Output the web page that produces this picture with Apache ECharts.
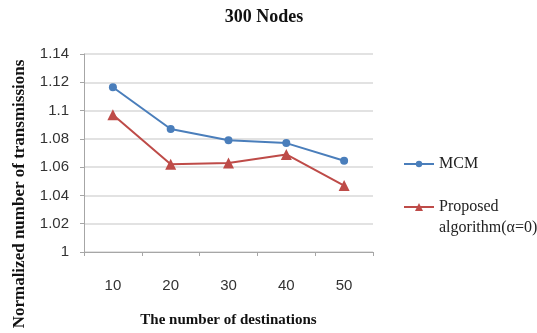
<!DOCTYPE html>
<html>
<head>
<meta charset="utf-8">
<script src="https://cdn.jsdelivr.net/npm/echarts@6/dist/echarts.min.js"></script>
<style>
  html, body { margin: 0; padding: 0; background: #fff; }
  #chart { width: 537px; height: 333px; }
</style>
</head>
<body>
<div id="chart"></div>
<script>
// Number of destinations on the x axis
const destinations = ['10', '20', '30', '40', '50'];
// Normalized number of transmissions per method
const mcm = [1.1165, 1.087, 1.079, 1.077, 1.0645];
const proposed = [1.097, 1.062, 1.063, 1.069, 1.047];
// Y-axis tick range
const yMin = 1, yMax = 1.14, yStep = 0.02;

const serif = '"Liberation Serif", "DejaVu Serif", serif';
const sans = '"Liberation Sans", "Open Sans", sans-serif';
const blue = '#4a7ebb';
const red = '#be4b48';

const chart = echarts.init(document.getElementById('chart'));
chart.setOption({
  animation: false,
  backgroundColor: '#ffffff',
  title: {
    text: '300 Nodes',
    left: 259, top: 3, textAlign: 'center',
    textStyle: { fontFamily: serif, fontWeight: 'bold', fontSize: 18, color: '#111' }
  },
  grid: { left: 84, right: 164, top: 54, bottom: 81 },
  legend: [
    {
      data: ['MCM'],
      left: 398, top: 148.5, orient: 'vertical',
      itemWidth: 30, itemHeight: 8,
      textStyle: { fontFamily: serif, fontSize: 16, lineHeight: 21, color: '#222' }
    },
    {
      data: ['Proposed algorithm(α=0)'],
      left: 398, top: 170.5, orient: 'vertical',
      itemWidth: 30, itemHeight: 10,
      // blank first line keeps the icon level with "Proposed"
      formatter: () => ' \nProposed\nalgorithm(α=0)',
      textStyle: { fontFamily: serif, fontSize: 16, lineHeight: 21, color: '#222' }
    }
  ],
  xAxis: {
    type: 'category',
    data: destinations,
    boundaryGap: true,
    name: 'The number of destinations',
    nameLocation: 'middle',
    nameGap: 61,
    nameTextStyle: { fontFamily: serif, fontWeight: 'bold', fontSize: 15, color: '#111' },
    axisLine: { lineStyle: { color: '#a6a6a6', width: 1 } },
    axisTick: { show: true, length: 4, lineStyle: { color: '#a6a6a6' } },
    axisLabel: { fontFamily: sans, fontSize: 15, color: '#333', margin: 26 }
  },
  yAxis: {
    type: 'value',
    min: yMin, max: yMax, interval: yStep,
    name: 'Normalized number of transmissions',
    nameLocation: 'middle',
    nameGap: 56,
    nameTextStyle: {
      fontFamily: serif, fontWeight: 'bold', fontSize: 17, color: '#111',
      padding: [0, 82, 0, 0]
    },
    axisLine: { show: true, lineStyle: { color: '#a6a6a6', width: 1 } },
    axisTick: { show: true, length: 4, lineStyle: { color: '#a6a6a6' } },
    axisLabel: {
      fontFamily: sans, fontSize: 15, color: '#333', margin: 15,
      formatter: v => String(Math.round(v * 100) / 100)
    },
    splitLine: { show: true, lineStyle: { color: '#d9d9d9', width: 1.5 } }
  },
  series: [
    {
      name: 'MCM',
      type: 'line',
      data: mcm,
      symbol: 'circle', symbolSize: 8,
      itemStyle: { color: blue },
      lineStyle: { color: blue, width: 2 }
    },
    {
      name: 'Proposed algorithm(α=0)',
      type: 'line',
      data: proposed,
      symbol: 'triangle', symbolSize: 11,
      itemStyle: { color: red },
      lineStyle: { color: red, width: 2 }
    }
  ]
});
</script>
</body>
</html>
